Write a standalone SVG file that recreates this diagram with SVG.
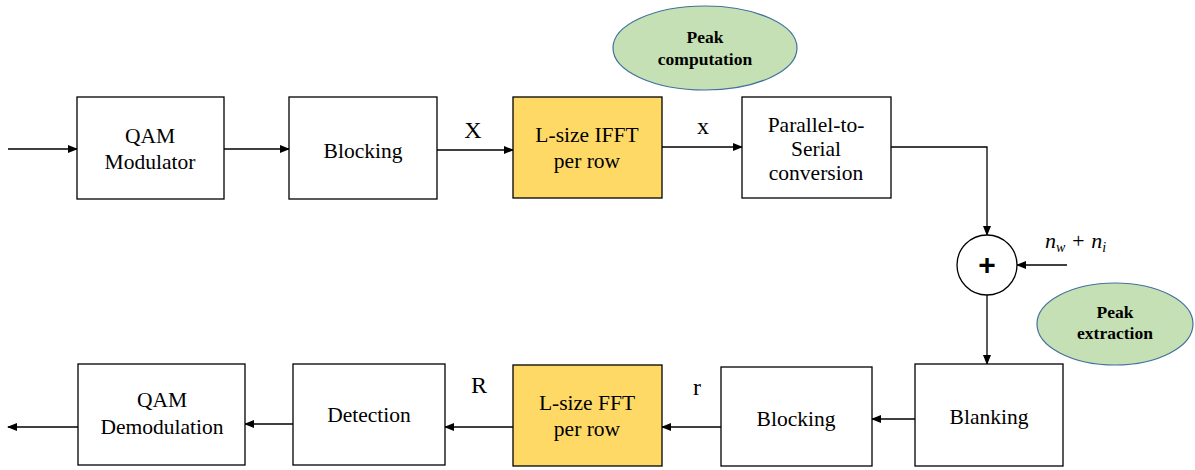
<svg xmlns="http://www.w3.org/2000/svg" width="1195" height="470" viewBox="0 0 1195 470">
  <defs>
    <marker id="arrow" markerWidth="10" markerHeight="8" refX="9" refY="4" orient="auto" markerUnits="userSpaceOnUse">
      <path d="M0,0 L10,4 L0,8 Z" fill="#000"/>
    </marker>
    <style>
      .box { fill: #fff; stroke: #000; stroke-width: 1.3; }
      .fft { fill: #FFD966; stroke: #000; stroke-width: 1.3; }
      .oval { fill: #C5E0B4; stroke: #41719C; stroke-width: 1.2; }
      .wire { stroke: #000; stroke-width: 1.3; fill: none; }
      text { font-family: 'Liberation Serif', 'Times New Roman', serif; fill: #000; }
    </style>
  </defs>
  <rect width="1195" height="470" fill="#fff"/>

  <!-- connectors -->
  <g id="connectors">
    <line class="wire" x1="8" y1="149" x2="77" y2="149" marker-end="url(#arrow)"/>
    <line class="wire" x1="224" y1="149" x2="289" y2="149" marker-end="url(#arrow)"/>
    <line class="wire" x1="437" y1="150" x2="513" y2="150" marker-end="url(#arrow)"/>
    <line class="wire" x1="662" y1="147" x2="742" y2="147" marker-end="url(#arrow)"/>
    <polyline class="wire" points="891,147 987,147 987,235" marker-end="url(#arrow)"/>
    <line class="wire" x1="1067" y1="265" x2="1017" y2="265" marker-end="url(#arrow)"/>
    <line class="wire" x1="987" y1="295" x2="987" y2="364" marker-end="url(#arrow)"/>
    <line class="wire" x1="915" y1="419" x2="872" y2="419" marker-end="url(#arrow)"/>
    <line class="wire" x1="721" y1="427" x2="662" y2="427" marker-end="url(#arrow)"/>
    <line class="wire" x1="513" y1="427" x2="445" y2="427" marker-end="url(#arrow)"/>
    <line class="wire" x1="293" y1="424" x2="245" y2="424" marker-end="url(#arrow)"/>
    <line class="wire" x1="78" y1="427" x2="8" y2="427" marker-end="url(#arrow)"/>
    <g font-size="24" text-anchor="middle">
      <text x="473" y="138">X</text>
      <text x="703" y="134">x</text>
      <text x="479" y="393">R</text>
      <text x="697" y="395">r</text>
    </g>
    <text x="1045" y="248" font-size="22" font-style="italic">n<tspan font-size="14" dy="4">w</tspan><tspan dy="-4"> + n</tspan><tspan font-size="14" dy="4">i</tspan></text>
  </g>

  <g id="peak-computation" font-size="17.5" font-weight="bold" text-anchor="middle">
    <ellipse class="oval" cx="705" cy="48" rx="92" ry="42"/>
    <text x="705" y="43">Peak</text>
    <text x="705" y="65">computation</text>
  </g>

  <g id="peak-extraction" font-size="17.5" font-weight="bold" text-anchor="middle">
    <ellipse class="oval" cx="1115" cy="324" rx="78" ry="41"/>
    <text x="1115" y="318">Peak</text>
    <text x="1115" y="339">extraction</text>
  </g>

  <g font-size="21.5" text-anchor="middle">
    <g id="qam-modulator">
      <rect class="box" x="77" y="97" width="147" height="102"/>
      <text x="150" y="143">QAM</text>
      <text x="150" y="169">Modulator</text>
    </g>

    <g id="blocking-tx">
      <rect class="box" x="289" y="97" width="148" height="102"/>
      <text x="363" y="158">Blocking</text>
    </g>

    <g id="ifft">
      <rect class="fft" x="513" y="97" width="149" height="101"/>
      <text x="587" y="142">L-size IFFT</text>
      <text x="587" y="168">per row</text>
    </g>

    <g id="p2s">
      <rect class="box" x="742" y="97" width="149" height="101"/>
      <text x="816" y="132">Parallel-to-</text>
      <text x="816" y="156">Serial</text>
      <text x="816" y="180">conversion</text>
    </g>

    <g id="adder">
      <circle class="box" cx="987" cy="265" r="30"/>
      <text x="987" y="275" style="font-family: 'Liberation Sans', Arial, sans-serif" font-size="30" font-weight="bold">+</text>
    </g>

    <g id="blanking">
      <rect class="box" x="915" y="364" width="148" height="102"/>
      <text x="989" y="424">Blanking</text>
    </g>

    <g id="blocking-rx">
      <rect class="box" x="721" y="367" width="151" height="99"/>
      <text x="796" y="426">Blocking</text>
    </g>

    <g id="fft">
      <rect class="fft" x="513" y="365" width="149" height="101"/>
      <text x="587" y="410">L-size FFT</text>
      <text x="587" y="436">per row</text>
    </g>

    <g id="detection">
      <rect class="box" x="293" y="364" width="152" height="101"/>
      <text x="369" y="422">Detection</text>
    </g>

    <g id="qam-demodulation">
      <rect class="box" x="78" y="364" width="167" height="101"/>
      <text x="162" y="407">QAM</text>
      <text x="162" y="434">Demodulation</text>
    </g>
  </g>
</svg>
